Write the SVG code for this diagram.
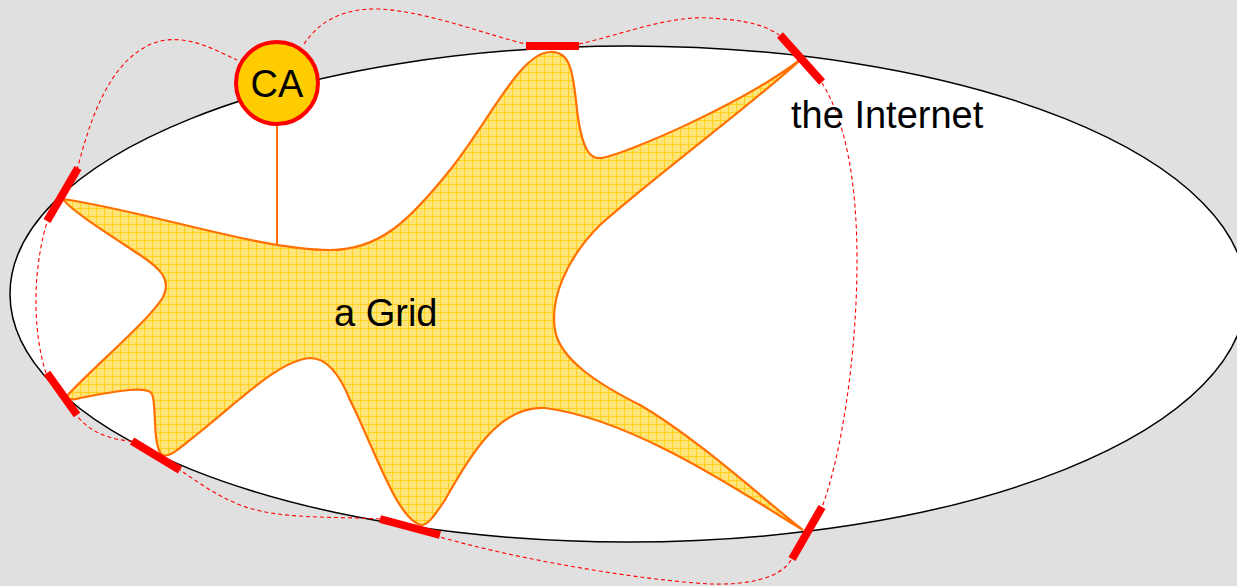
<svg xmlns="http://www.w3.org/2000/svg" width="1237" height="586" viewBox="0 0 1237 586">
<style>
.lbl{font-family:"Liberation Sans",Arial,sans-serif;font-size:38px;fill:#000}
.bar{stroke:#ff0000;stroke-width:8;fill:none}
.dash{stroke:#ff0000;stroke-width:1.1;stroke-dasharray:4,3;fill:none}
</style>
<defs>
<pattern id="grid" width="8" height="8" patternUnits="userSpaceOnUse">
<rect width="8" height="8" fill="#ffe47a"/>
<path d="M0,0.5H8M0.5,0V8" stroke="#ffcc00" stroke-width="1" stroke-opacity="0.75"/>
</pattern>
</defs>
<rect width="1237" height="586" fill="#e0e0e0"/>
<g id="internet">
<ellipse cx="628" cy="294" rx="618" ry="248" fill="#ffffff" stroke="#000" stroke-width="1.5"/>
</g>
<g id="connectors">
<path class="dash" d="M77,170 C90,120 110,55 160,41 C190,35 215,50 237,60"/>
<path class="dash" d="M304,44 C320,20 345,8 380,9 C430,12 490,36 526,44"/>
<path class="dash" d="M579,44 C620,35 670,15 710,18 C745,20 765,25 779,35"/>
<path class="dash" d="M822,83 C845,120 857,180 857,260 C857,360 840,460 822,507"/>
<path class="dash" d="M791,560 C780,578 750,585 710,584 C640,580 520,560 440,537"/>
<path class="dash" d="M380,519 C330,516 280,520 240,505 C215,495 195,480 180,470"/>
<path class="dash" d="M132,441 C110,440 90,432 77,416"/>
<path class="dash" d="M46,373 C35,340 30,280 47,222"/>
<line x1="277" y1="126" x2="277" y2="247" stroke="#ff7000" stroke-width="2"/>
</g>
<g id="grid-star">
<path fill="url(#grid)" stroke="#ff7000" stroke-width="2.2" d="M63,199 C150,212 260,250 330,250 C380,250 410,220 450,170 C490,120 520,53 550,52 C570,51 573,70 577,110 C582,150 590,160 602,158 C630,152 740,105 800,60 C770,90 650,180 600,225 C565,260 550,300 555,330 C560,360 600,385 640,405 C700,440 770,505 803,530 C760,505 640,420 545,408 C500,405 470,455 445,500 C435,515 428,525 422,525 C398,522 375,450 350,400 C338,370 325,358 310,358 C280,360 240,400 200,432 C180,448 170,458 162,455 C152,445 157,405 152,394 C148,386 120,390 80,398 C75,400 68,400 66,397 C90,370 150,320 163,297 C172,280 160,268 140,255 C110,235 70,210 63,199 Z"/>
<text class="lbl" x="334" y="326">a Grid</text>
</g>
<g id="ca">
<circle cx="277" cy="83" r="41" fill="#ffcc00" stroke="#ff0000" stroke-width="4"/>
<text class="lbl" x="277" y="97" text-anchor="middle" font-size="37">CA</text>
</g>
<g id="gateways">
<line class="bar" x1="526" y1="46" x2="579" y2="46"/>
<line class="bar" x1="780" y1="35" x2="822" y2="82"/>
<line class="bar" x1="78" y1="168" x2="47" y2="221"/>
<line class="bar" x1="47" y1="373" x2="77" y2="415"/>
<line class="bar" x1="132" y1="441" x2="180" y2="470"/>
<line class="bar" x1="380" y1="519" x2="440" y2="535"/>
<line class="bar" x1="822" y1="507" x2="792" y2="559"/>
</g>
<g id="internet-label">
<text class="lbl" x="791" y="128">the Internet</text>
</g>
</svg>
